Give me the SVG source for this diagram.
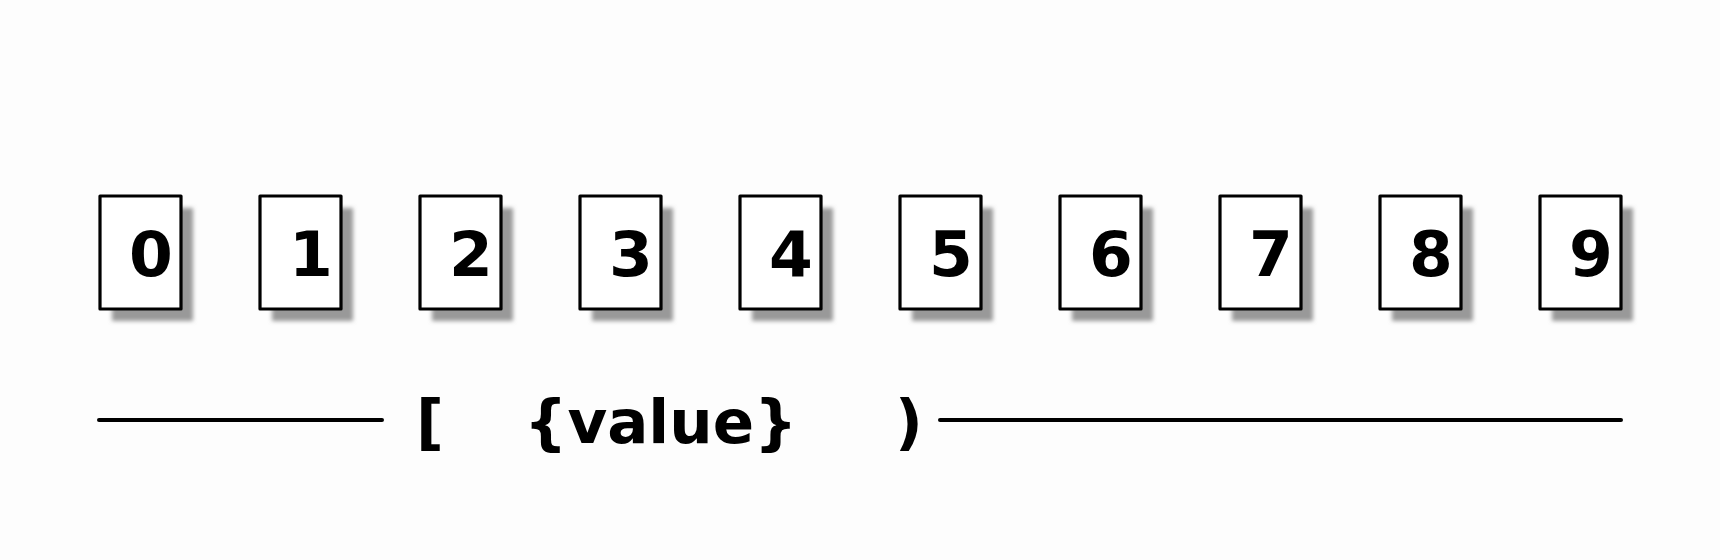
<svg xmlns="http://www.w3.org/2000/svg" width="1720" height="560" viewBox="0 0 1720 560">
<defs>
<filter id="blur" x="-20%" y="-20%" width="140%" height="140%"><feGaussianBlur stdDeviation="2"/></filter>
<style>
.box{fill:#ffffff;stroke:#000000;stroke-width:3.2;stroke-linejoin:round}
.shadow{fill:#999999;filter:url(#blur)}
.digit{font-family:"DejaVu Sans",sans-serif;font-weight:bold;font-size:63px;text-anchor:middle;fill:#000}
.lbl{font-family:"DejaVu Sans",sans-serif;font-weight:bold;font-size:61px;fill:#000}
.ln{stroke:#000;stroke-width:4;stroke-linecap:round}
</style>
</defs>
<rect x="0" y="0" width="1720" height="560" fill="#fdfdfd"/>
<g id="node-0"><rect class="shadow" x="112" y="208" width="81" height="113"/><rect class="box" x="100" y="196" width="81" height="113"/><text class="digit" x="151" y="276">0</text></g>
<g id="node-1"><rect class="shadow" x="272" y="208" width="81" height="113"/><rect class="box" x="260" y="196" width="81" height="113"/><text class="digit" x="311" y="276">1</text></g>
<g id="node-2"><rect class="shadow" x="432" y="208" width="81" height="113"/><rect class="box" x="420" y="196" width="81" height="113"/><text class="digit" x="471" y="276">2</text></g>
<g id="node-3"><rect class="shadow" x="592" y="208" width="81" height="113"/><rect class="box" x="580" y="196" width="81" height="113"/><text class="digit" x="631" y="276">3</text></g>
<g id="node-4"><rect class="shadow" x="752" y="208" width="81" height="113"/><rect class="box" x="740" y="196" width="81" height="113"/><text class="digit" x="791" y="276">4</text></g>
<g id="node-5"><rect class="shadow" x="912" y="208" width="81" height="113"/><rect class="box" x="900" y="196" width="81" height="113"/><text class="digit" x="951" y="276">5</text></g>
<g id="node-6"><rect class="shadow" x="1072" y="208" width="81" height="113"/><rect class="box" x="1060" y="196" width="81" height="113"/><text class="digit" x="1111" y="276">6</text></g>
<g id="node-7"><rect class="shadow" x="1232" y="208" width="81" height="113"/><rect class="box" x="1220" y="196" width="81" height="113"/><text class="digit" x="1271" y="276">7</text></g>
<g id="node-8"><rect class="shadow" x="1392" y="208" width="81" height="113"/><rect class="box" x="1380" y="196" width="81" height="113"/><text class="digit" x="1431" y="276">8</text></g>
<g id="node-9"><rect class="shadow" x="1552" y="208" width="81" height="113"/><rect class="box" x="1540" y="196" width="81" height="113"/><text class="digit" x="1591" y="276">9</text></g>
<g id="connectors">
<line class="ln" x1="99" y1="420" x2="382" y2="420"/>
<line class="ln" x1="940" y1="420" x2="1621" y2="420"/>
</g>
<g id="label">
<text class="lbl" x="416" y="443">[</text>
<text class="lbl" x="524" y="443">{value}</text>
<text class="lbl" x="895" y="443">)</text>
</g>
</svg>
